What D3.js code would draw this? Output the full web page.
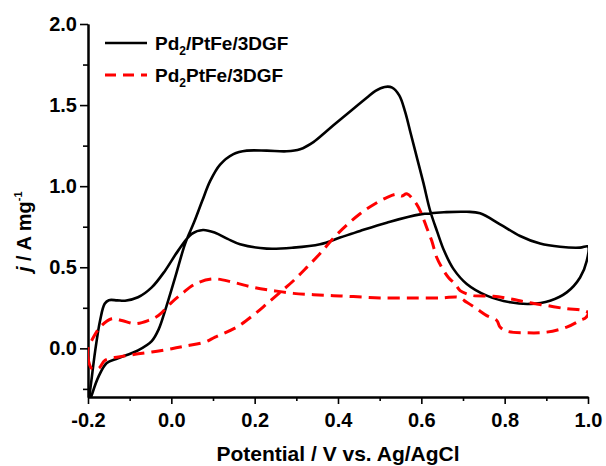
<!DOCTYPE html>
<html><head><meta charset="utf-8">
<script src="https://cdn.jsdelivr.net/npm/d3@7"></script>
<style>
body{margin:0;background:#fff;}
svg text{font-family:"Liberation Sans",Arial,Helvetica,sans-serif;font-weight:bold;fill:#000;}
</style></head>
<body>
<svg id="chart" width="606" height="466"></svg>
<script>
// ---- data ----
const seriesNames = ["Pd2/PtFe/3DGF", "Pd2PtFe/3DGF"];
const xTicks = [-0.2, 0.0, 0.2, 0.4, 0.6, 0.8, 1.0];
const xMinorTicks = [-0.1, 0.1, 0.3, 0.5, 0.7, 0.9];
const yTicks = [0.0, 0.5, 1.0, 1.5, 2.0];
const yMinorTicks = [-0.25, 0.25, 0.75, 1.25, 1.75];

const blackPotential = [-0.200,-0.195,-0.183,-0.171,-0.160,-0.150,-0.130,-0.111,-0.080,-0.047,-0.015,0.016,0.049,0.076,0.105,0.135,0.165,0.229,0.293,0.357,0.405,0.453,0.517,0.597,0.660,0.709,0.741,0.789,0.837,0.885,0.933,0.981,1.000,
  0.997,0.981,0.949,0.909,0.861,0.813,0.757,0.709,0.677,0.655,0.638,0.621,0.605,0.590,0.575,0.561,0.547,0.530,0.512,0.490,0.469,0.437,0.405,0.373,0.341,0.309,0.277,0.229,0.181,0.149,0.117,0.093,0.074,0.055,0.033,0.009,-0.015,-0.030,-0.047,-0.080,-0.128,-0.155,-0.175,-0.191,-0.196];
const blackCurrent = [-0.330,-0.258,-0.020,0.172,0.275,0.297,0.296,0.294,0.315,0.376,0.479,0.601,0.706,0.730,0.713,0.675,0.642,0.615,0.621,0.642,0.683,0.724,0.775,0.826,0.840,0.842,0.833,0.765,0.693,0.646,0.626,0.621,0.628,
  0.540,0.437,0.345,0.294,0.274,0.284,0.325,0.397,0.490,0.600,0.720,0.850,1.020,1.170,1.320,1.460,1.560,1.608,1.612,1.588,1.545,1.478,1.410,1.340,1.272,1.228,1.215,1.219,1.219,1.198,1.133,1.031,0.908,0.780,0.644,0.436,0.233,0.120,0.045,-0.012,-0.061,-0.090,-0.176,-0.288,-0.330];

const redPotential = [-0.200,-0.191,-0.175,-0.159,-0.127,-0.087,-0.047,0.001,0.033,0.081,0.105,0.157,0.197,0.229,0.261,0.293,0.325,0.357,0.389,0.421,0.453,0.485,0.517,0.541,0.553,0.565,0.589,0.601,0.613,0.625,0.637,0.649,0.665,0.681,0.693,0.709,0.725,0.773,0.813,0.853,0.901,0.949,0.985,1.000,
  0.995,0.981,0.949,0.901,0.853,0.805,0.789,0.781,0.757,0.733,0.709,0.689,0.650,0.581,0.501,0.437,0.389,0.341,0.293,0.245,0.197,0.149,0.101,0.057,0.025,0.001,-0.031,-0.055,-0.087,-0.119,-0.143,-0.171,-0.191,-0.200,-0.200];
const redCurrent = [-0.060,-0.125,-0.125,-0.074,-0.053,-0.037,-0.023,-0.002,0.014,0.039,0.069,0.131,0.205,0.274,0.345,0.417,0.499,0.585,0.680,0.760,0.830,0.885,0.930,0.950,0.939,0.953,0.888,0.826,0.744,0.663,0.560,0.499,0.437,0.397,0.356,0.336,0.325,0.321,0.305,0.284,0.264,0.244,0.235,0.220,
  0.190,0.172,0.131,0.100,0.096,0.106,0.131,0.172,0.202,0.244,0.284,0.315,0.311,0.311,0.311,0.319,0.325,0.331,0.339,0.356,0.376,0.407,0.428,0.397,0.336,0.284,0.202,0.172,0.152,0.172,0.182,0.131,0.049,0.000,-0.060];

// ---- layout ----
const svg = d3.select("#chart");
const m = {left: 88, top: 24, right: 18, bottom: 69};
const W = 606 - m.left - m.right, H = 466 - m.top - m.bottom;
const x = d3.scaleLinear().domain([-0.2, 1.0]).range([m.left, m.left + W]);
const y = d3.scaleLinear().domain([-0.3, 2.0]).range([m.top + H, m.top]);

svg.append("defs").append("clipPath").attr("id","clip")
  .append("rect").attr("x", m.left).attr("y", m.top).attr("width", W).attr("height", H);

const fmt = d => d.toFixed(1);

// axes
function styleAxis(g){
  g.selectAll(".domain").attr("stroke","#000").attr("stroke-width",2);
  g.selectAll(".tick line").attr("stroke","#000").attr("stroke-width",1.6);
}
const gx = svg.append("g").attr("transform",`translate(0,${m.top+H})`)
  .call(d3.axisBottom(x).tickValues(xTicks).tickFormat(fmt).tickSize(7).tickPadding(9).tickSizeOuter(0));
gx.selectAll("text").attr("font-size",20);
styleAxis(gx);
const gxm = svg.append("g").attr("transform",`translate(0,${m.top+H})`)
  .call(d3.axisBottom(x).tickValues(xMinorTicks).tickFormat("").tickSize(4).tickSizeOuter(0));
styleAxis(gxm);

const gy = svg.append("g").attr("transform",`translate(${m.left},0)`)
  .call(d3.axisLeft(y).tickValues(yTicks).tickFormat(fmt).tickSize(8).tickPadding(3).tickSizeOuter(0));
gy.selectAll("text").attr("font-size",20);
styleAxis(gy);
const gym = svg.append("g").attr("transform",`translate(${m.left},0)`)
  .call(d3.axisLeft(y).tickValues(yMinorTicks).tickFormat("").tickSize(5).tickSizeOuter(0));
styleAxis(gym);
svg.selectAll(".tick text").attr("font-family",null).attr("fill","#000");
svg.selectAll("g").attr("font-family",null);

// axis titles
svg.append("text").attr("x", x(0.4)).attr("y", 461).attr("text-anchor","middle")
  .attr("font-size",21).text("Potential / V vs. Ag/AgCl");

const yt = svg.append("text").attr("transform","translate(31,272) rotate(-90)").attr("font-size",20);
yt.append("tspan").attr("font-style","italic").text("j");
yt.append("tspan").text(" / A mg");
yt.append("tspan").attr("font-size",11).attr("dy",-9).text("-1");

// curves
const line = d3.line().x(d => x(d[0])).y(d => y(d[1])).curve(d3.curveCatmullRom.alpha(0.5));
const blackData = blackPotential.map((v,i) => [v, blackCurrent[i]]);
const redData = redPotential.map((v,i) => [v, redCurrent[i]]);
const plot = svg.append("g").attr("clip-path","url(#clip)");
plot.append("path").datum(blackData).attr("d", line)
  .attr("fill","none").attr("stroke","#000").attr("stroke-width",2.6).attr("stroke-linejoin","round");
plot.append("path").datum(redData).attr("d", line)
  .attr("fill","none").attr("stroke","#ff0000").attr("stroke-width",3).attr("stroke-dasharray","12,7");

// legend
const legend = [
  {name: seriesNames[0], color:"#000", dash:null, w:2.6, ly:43},
  {name: seriesNames[1], color:"#ff0000", dash:"11,7", w:3, ly:75}
];
legend.forEach(l => {
  svg.append("line").attr("x1",105).attr("x2",147).attr("y1",l.ly).attr("y2",l.ly)
    .attr("stroke",l.color).attr("stroke-width",l.w).attr("stroke-dasharray",l.dash);
  const t = svg.append("text").attr("x",155).attr("y",l.ly+7).attr("font-size",19);
  t.append("tspan").text(l.name.slice(0,2));
  t.append("tspan").attr("font-size",12).attr("dy",5).text(l.name.slice(2,3));
  t.append("tspan").attr("dy",-5).text(l.name.slice(3));
});
</script>
</body></html>
